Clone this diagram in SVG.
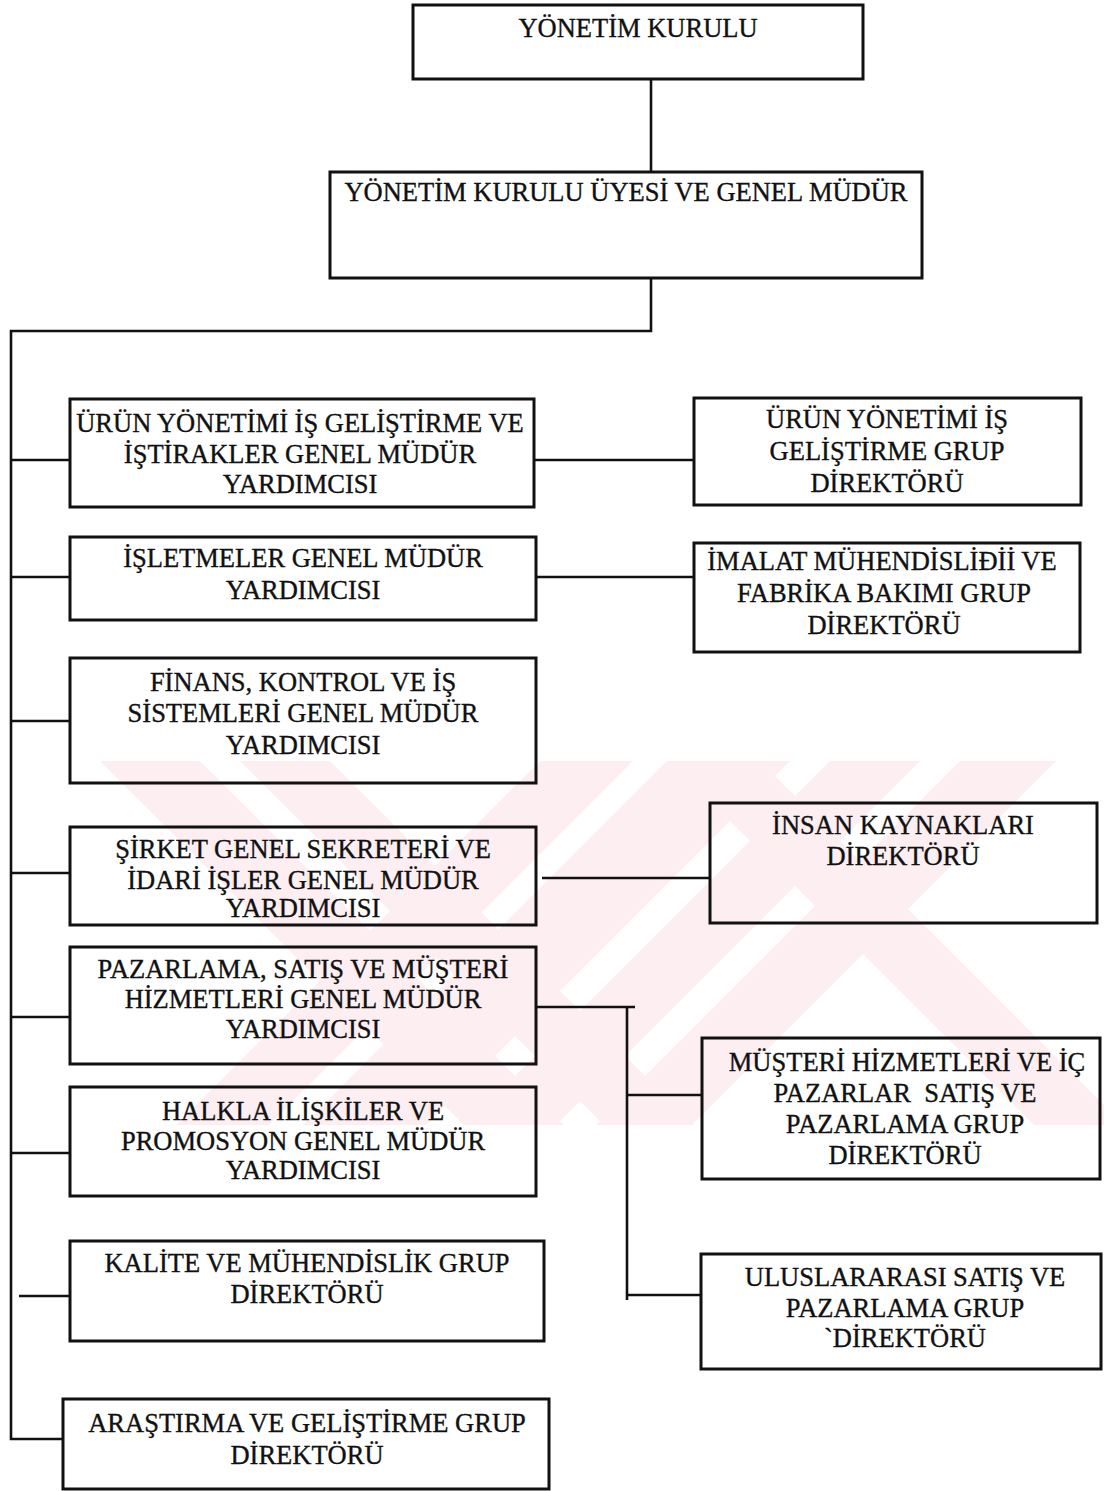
<svg xmlns="http://www.w3.org/2000/svg" width="1104" height="1491" viewBox="0 0 1104 1491">
  <style>
    .box { fill: none; stroke: #111; stroke-width: 3; }
    .wire { fill: none; stroke: #111; stroke-width: 2.6; }
    .lbl { font-family: "Liberation Serif", "Times New Roman", serif; font-size: 26.5px; fill: #111; stroke: #111; stroke-width: 0.35; text-anchor: middle; }
    .mark { fill: #fdeef1; }
  </style>
  <defs>
    <clipPath id="markClip">
      <rect x="0" y="761" width="1104" height="364"/>
    </clipPath>
  </defs>

  <rect width="1104" height="1491" fill="#fff"/>

  <!-- faint striped emblem behind the lower half -->
  <g id="emblem" class="mark" clip-path="url(#markClip)">
    <polygon points="100,761 200,761 564,1125 464,1125"/>
    <polygon points="240,761 330,761 694,1125 604,1125"/>
    <polygon points="670,761 760,761 1124,1125 1034,1125"/>
    <polygon points="540,761 633,761 269,1125 176,1125"/>
    <polygon points="667,761 790,761 426,1125 303,1125"/>
    <polygon points="830,761 920,761 556,1125 466,1125"/>
    <polygon points="960,761 1056,761 692,1125 596,1125"/>
  </g>

  <!-- connectors -->
  <g id="connectors" class="wire">
    <path d="M651 79 V172"/>
    <path d="M651 278 V331 H11 V1439 H63"/>
    <path d="M11 460 H70"/>
    <path d="M11 577 H70"/>
    <path d="M11 721 H70"/>
    <path d="M11 873 H70"/>
    <path d="M11 1017 H70"/>
    <path d="M11 1153 H70"/>
    <path d="M19 1296 H70"/>
    <path d="M534 460 H694"/>
    <path d="M536 577 H694"/>
    <path d="M542 878 H710"/>
    <path d="M536 1007 H635"/>
    <path d="M627 1007 V1300"/>
    <path d="M627 1095 H702"/>
    <path d="M627 1295 H701"/>
  </g>

  <g id="yonetim-kurulu">
    <rect class="box" x="413" y="5" width="450" height="74"/>
    <text class="lbl" x="638" y="37">YÖNETİM KURULU</text>
  </g>

  <g id="genel-mudur">
    <rect class="box" x="330" y="172" width="592" height="106"/>
    <text class="lbl" x="626" y="201">YÖNETİM KURULU ÜYESİ VE GENEL MÜDÜR</text>
  </g>

  <g id="urun-gmy">
    <rect class="box" x="70" y="399" width="464" height="108"/>
    <text class="lbl" x="300" y="432">ÜRÜN YÖNETİMİ İŞ GELİŞTİRME VE</text>
    <text class="lbl" x="300" y="463">İŞTİRAKLER GENEL MÜDÜR</text>
    <text class="lbl" x="300" y="493">YARDIMCISI</text>
  </g>

  <g id="urun-direktor">
    <rect class="box" x="694" y="398" width="387" height="107"/>
    <text class="lbl" x="887" y="428">ÜRÜN YÖNETİMİ İŞ</text>
    <text class="lbl" x="887" y="460">GELİŞTİRME GRUP</text>
    <text class="lbl" x="887" y="492">DİREKTÖRÜ</text>
  </g>

  <g id="isletmeler-gmy">
    <rect class="box" x="70" y="537" width="466" height="83"/>
    <text class="lbl" x="303" y="567">İŞLETMELER GENEL MÜDÜR</text>
    <text class="lbl" x="303" y="599">YARDIMCISI</text>
  </g>

  <g id="imalat-direktor">
    <rect class="box" x="694" y="543" width="386" height="109"/>
    <text class="lbl" x="882" y="570">İMALAT MÜHENDİSLİĐİİ VE</text>
    <text class="lbl" x="884" y="602">FABRİKA BAKIMI GRUP</text>
    <text class="lbl" x="884" y="634">DİREKTÖRÜ</text>
  </g>

  <g id="finans-gmy">
    <rect class="box" x="70" y="658" width="466" height="125"/>
    <text class="lbl" x="303" y="691">FİNANS, KONTROL VE İŞ</text>
    <text class="lbl" x="303" y="722">SİSTEMLERİ GENEL MÜDÜR</text>
    <text class="lbl" x="303" y="754">YARDIMCISI</text>
  </g>

  <g id="sirket-gmy">
    <rect class="box" x="70" y="827" width="466" height="98"/>
    <text class="lbl" x="303" y="858">ŞİRKET GENEL SEKRETERİ VE</text>
    <text class="lbl" x="303" y="889">İDARİ İŞLER GENEL MÜDÜR</text>
    <text class="lbl" x="303" y="917">YARDIMCISI</text>
  </g>

  <g id="insan-direktor">
    <rect class="box" x="710" y="803" width="387" height="120"/>
    <text class="lbl" x="903" y="834">İNSAN KAYNAKLARI</text>
    <text class="lbl" x="903" y="865">DİREKTÖRÜ</text>
  </g>

  <g id="pazarlama-gmy">
    <rect class="box" x="70" y="947" width="466" height="117"/>
    <text class="lbl" x="303" y="978">PAZARLAMA, SATIŞ VE MÜŞTERİ</text>
    <text class="lbl" x="303" y="1008">HİZMETLERİ GENEL MÜDÜR</text>
    <text class="lbl" x="303" y="1038">YARDIMCISI</text>
  </g>

  <g id="musteri-direktor">
    <rect class="box" x="702" y="1038" width="398" height="141"/>
    <text class="lbl" x="907" y="1071">MÜŞTERİ HİZMETLERİ VE İÇ</text>
    <text class="lbl" x="905" y="1102" style="white-space:pre">PAZARLAR  SATIŞ VE</text>
    <text class="lbl" x="905" y="1133">PAZARLAMA GRUP</text>
    <text class="lbl" x="905" y="1164">DİREKTÖRÜ</text>
  </g>

  <g id="halkla-gmy">
    <rect class="box" x="70" y="1087" width="466" height="109"/>
    <text class="lbl" x="303" y="1120">HALKLA İLİŞKİLER VE</text>
    <text class="lbl" x="303" y="1150">PROMOSYON GENEL MÜDÜR</text>
    <text class="lbl" x="303" y="1179">YARDIMCISI</text>
  </g>

  <g id="kalite-direktor">
    <rect class="box" x="70" y="1241" width="474" height="100"/>
    <text class="lbl" x="307" y="1272">KALİTE VE MÜHENDİSLİK GRUP</text>
    <text class="lbl" x="307" y="1303">DİREKTÖRÜ</text>
  </g>

  <g id="uluslararasi-direktor">
    <rect class="box" x="701" y="1254" width="400" height="115"/>
    <text class="lbl" x="905" y="1286">ULUSLARARASI SATIŞ VE</text>
    <text class="lbl" x="905" y="1317">PAZARLAMA GRUP</text>
    <text class="lbl" x="905" y="1347">`DİREKTÖRÜ</text>
  </g>

  <g id="arastirma-direktor">
    <rect class="box" x="63" y="1399" width="486" height="90"/>
    <text class="lbl" x="307" y="1432">ARAŞTIRMA VE GELİŞTİRME GRUP</text>
    <text class="lbl" x="307" y="1464">DİREKTÖRÜ</text>
  </g>
</svg>
